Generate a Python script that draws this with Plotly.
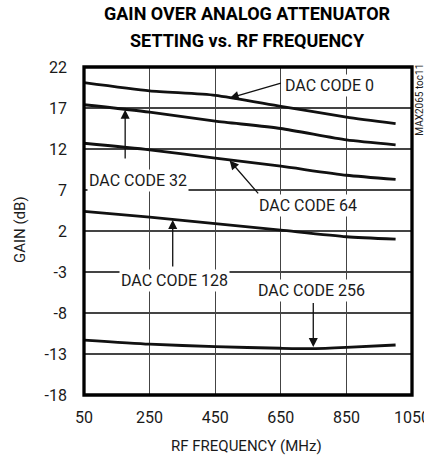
import plotly.graph_objects as go

# ---- data ----
freq = [50, 250, 450, 650, 850, 1000]
dac0 = [20.1, 19.1, 18.55, 17.2, 15.9, 15.1]
dac32 = [17.4, 16.5, 15.4, 14.5, 13.1, 12.5]
dac64 = [12.7, 11.9, 10.9, 9.9, 8.8, 8.3]
dac128 = [4.4, 3.7, 2.9, 2.1, 1.3, 1.0]
freq256 = [50, 250, 450, 650, 750, 850, 1000]
dac256 = [-11.3, -11.8, -12.1, -12.3, -12.35, -12.2, -11.9]

x_ticks = [50, 250, 450, 650, 850, 1050]
y_ticks = [-18, -13, -8, -3, 2, 7, 12, 17, 22]

labels = ["DAC CODE 0", "DAC CODE 32", "DAC CODE 64", "DAC CODE 128", "DAC CODE 256"]
label_pos = [(798, 19.8), (214, 8.2), (734, 5.17), (327, -3.98), (743, -5.2)]
arrow_tip = [(494, 18.2), (175.5, 16.8), (494, 10.6), (320.5, 3.34), (749, -12.15)]
arrow_tail = [(655, 20.1), (175.5, 10.66), (585, 6.4), (320.5, -2.5), (749, -6.6)]

title_lines = ["GAIN OVER ANALOG ATTENUATOR", "SETTING vs. RF FREQUENCY"]

FONT = "Roboto, Liberation Sans, sans-serif"
INK = "#1a1a1a"
GRID = "#444444"

fig = go.Figure()

for xs, ys in [(freq, dac0), (freq, dac32), (freq, dac64), (freq, dac128), (freq256, dac256)]:
    fig.add_trace(go.Scatter(x=xs, y=ys, mode="lines",
                             line=dict(color="#111111", width=2.8, shape="spline", smoothing=0.6),
                             showlegend=False, hoverinfo="skip"))

annotations = []
for (tx, ty), (hx, hy) in zip(arrow_tail, arrow_tip):
    annotations.append(dict(x=hx, y=hy, ax=tx, ay=ty, xref="x", yref="y", axref="x", ayref="y",
                            text="", showarrow=True, arrowhead=2, arrowsize=1.4, arrowwidth=1.3,
                            arrowcolor="#111111", standoff=0, startstandoff=0))
for lab, (lx, ly) in zip(labels, label_pos):
    annotations.append(dict(x=lx, y=ly, xref="x", yref="y", text=lab, showarrow=False,
                            font=dict(family=FONT, size=16, color=INK),
                            bgcolor="white", borderpad=1))

annotations += [
    dict(text=title_lines[0], xref="paper", yref="paper", x=0.499, y=1.1616, yanchor="middle",
         xanchor="center", showarrow=False,
         font=dict(family=FONT, size=18, color="black", weight="bold")),
    dict(text=title_lines[1], xref="paper", yref="paper", x=0.499, y=1.0823, yanchor="middle",
         xanchor="center", showarrow=False,
         font=dict(family=FONT, size=18, color="black", weight="bold")),
    dict(text="GAIN (dB)", xref="paper", yref="paper", x=-0.195, y=0.503, textangle=-90,
         xanchor="center", yanchor="middle", showarrow=False,
         font=dict(family=FONT, size=15, color=INK)),
    dict(text="RF FREQUENCY (MHz)", xref="paper", yref="paper", x=0.495, y=-0.157,
         xanchor="center", yanchor="middle", showarrow=False,
         font=dict(family=FONT, size=15, color=INK)),
    dict(text="MAX2065 toc11", xref="paper", yref="paper", x=1.024, y=0.9, textangle=-90,
         xanchor="center", yanchor="middle", showarrow=False,
         font=dict(family=FONT, size=10, color=INK)),
]

shapes = [dict(type="rect", xref="paper", yref="paper", x0=0, y0=0, x1=1, y1=1,
               line=dict(color="black", width=3.3), layer="above")]

fig.update_layout(
    template="none",
    width=424, height=458,
    margin=dict(l=84, r=11.5, t=67, b=63, autoexpand=False),
    paper_bgcolor="white", plot_bgcolor="white",
    annotations=annotations,
    shapes=shapes,
)
fig.update_xaxes(range=[50, 1050], tickvals=x_ticks, ticktext=[str(v) for v in x_ticks],
                 showgrid=True, gridcolor=GRID, gridwidth=1.2, zeroline=False, showline=False,
                 ticks="", automargin=False, ticklabeloverflow="allow",
                 tickfont=dict(family=FONT, size=16, color=INK), ticklabelstandoff=11)
fig.update_yaxes(range=[-18, 22], tickvals=y_ticks, ticktext=[str(v) for v in y_ticks],
                 showgrid=True, gridcolor=GRID, gridwidth=1.2, zeroline=False, showline=False,
                 ticks="", automargin=False, ticklabeloverflow="allow",
                 tickfont=dict(family=FONT, size=16, color=INK), ticklabelstandoff=16)

fig.write_html("out.html", config={"displayModeBar": False, "staticPlot": True},
               post_script="document.body.style.margin='0';document.body.style.overflow='hidden';")
